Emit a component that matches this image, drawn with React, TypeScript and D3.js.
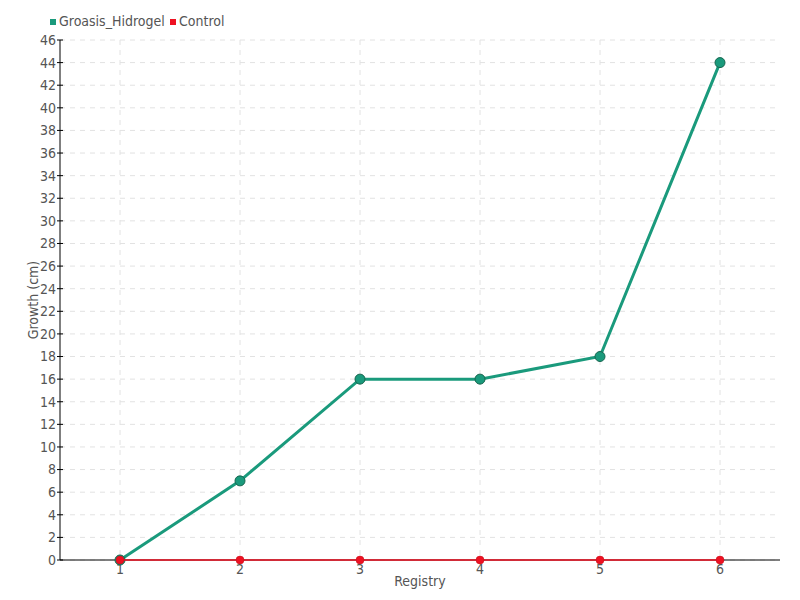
import React from "react";
import * as d3 from "d3";

const registry = [1, 2, 3, 4, 5, 6];
const groasis = [0, 7, 16, 16, 18, 44];
const control = [0, 0, 0, 0, 0, 0];
const yTicks = d3.range(0, 47, 2);
const seriesNames = ["Groasis_Hidrogel", "Control"];
const seriesColors = ["#1a9a7c", "#ee1122"];

const W = 800, H = 600;
const m = { left: 60, right: 20, top: 40, bottom: 40 };
const FONT = "'DejaVu Sans Condensed', 'DejaVu Sans', sans-serif";

export default function App() {
  const x = d3.scaleLinear().domain([0.5, 6.5]).range([m.left, W - m.right]);
  const y = d3.scaleLinear().domain([0, 46]).range([H - m.bottom, m.top]);
  const line = d3.line<number>().x((_, i) => x(registry[i])).y((d) => y(d));
  const x0 = m.left, x1 = W - m.right, y0 = H - m.bottom, y1 = m.top;
  return (
    <svg width={W} height={H} style={{ position: "absolute", left: 0, top: 0 }} fontFamily={FONT}>
      <rect width={W} height={H} fill="#fff" />
      {yTicks.map((t) => (
        <line key={"gy" + t} x1={x0} x2={x1} y1={y(t)} y2={y(t)} stroke="#e2e2e2" strokeDasharray="5,5" />
      ))}
      {registry.map((r) => (
        <line key={"gx" + r} x1={x(r)} x2={x(r)} y1={y1} y2={y0} stroke="#e2e2e2" strokeDasharray="5,5" />
      ))}
      <line x1={x0} x2={x0} y1={y1} y2={y0} stroke="#000" />
      <line x1={x0} x2={x1} y1={y0} y2={y0} stroke="#000" />
      {yTicks.map((t) => (
        <g key={"ty" + t}>
          <line x1={x0 - 3} x2={x0 + 3} y1={y(t)} y2={y(t)} stroke="#000" />
          <text x={x0 - 4} y={y(t)} dy="0.35em" textAnchor="end" fontSize={14} fill="#555">{t}</text>
        </g>
      ))}
      {registry.map((r) => (
        <g key={"tx" + r}>
          <line x1={x(r)} x2={x(r)} y1={y0} y2={y0 + 3} stroke="#888" />
          <text x={x(r)} y={y0 + 14} textAnchor="middle" fontSize={14} fill="#555">{r}</text>
        </g>
      ))}
      <text x={(x0 + x1) / 2} y={586} textAnchor="middle" fontSize={14} fill="#555">Registry</text>
      <text transform={`translate(38,${(y0 + y1) / 2}) rotate(-90)`} textAnchor="middle" fontSize={14} fill="#555">Growth (cm)</text>
      <path d={line(groasis) || ""} fill="none" stroke={seriesColors[0]} strokeWidth={3} />
      {groasis.map((v, i) => (
        <circle key={"g" + i} cx={x(registry[i])} cy={y(v)} r={5} fill={seriesColors[0]} stroke="#17664f" strokeWidth={1} />
      ))}
      <path d={line(control) || ""} fill="none" stroke={seriesColors[1]} strokeWidth={1.5} />
      {control.map((v, i) => (
        <circle key={"c" + i} cx={x(registry[i])} cy={y(v)} r={4} fill={seriesColors[1]} stroke="#c0101a" strokeWidth={0.5} />
      ))}
      <rect x={50} y={19} width={6} height={6} fill={seriesColors[0]} />
      <text x={59} y={26} fontSize={14} fill="#555">{seriesNames[0]}</text>
      <rect x={170} y={19} width={6} height={6} fill={seriesColors[1]} />
      <text x={179} y={26} fontSize={14} fill="#555">{seriesNames[1]}</text>
    </svg>
  );
}
